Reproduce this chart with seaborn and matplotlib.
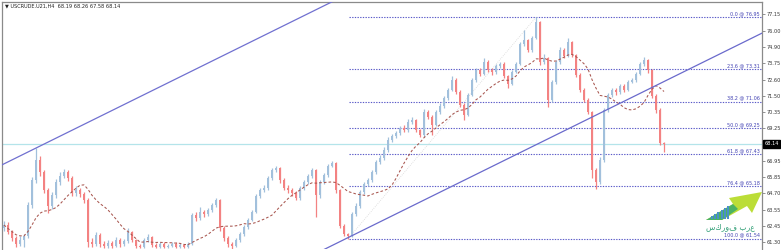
import numpy as np
import pandas as pd
import matplotlib
matplotlib.use("Agg")
import matplotlib.pyplot as plt
import matplotlib.transforms as mtrans
import seaborn as sns

# ---------------- data (USCRUDE H4 candles) ----------------
first_open = 62.30
closes = [62.50, 62.01, 61.59, 61.18, 61.45, 61.73, 63.89, 65.63, 67.02, 66.18,
          64.93, 63.82, 64.58, 65.49, 65.90, 66.18, 65.77, 64.72, 64.93, 64.65,
          64.24, 61.32, 61.18, 61.80, 61.18, 61.04, 61.25, 61.04, 61.45, 61.18,
          61.38, 62.01, 61.45, 61.04, 60.97, 61.45, 61.66, 61.11, 60.97, 61.18,
          60.97, 61.04, 61.18, 60.97, 61.11, 60.97, 61.18, 63.19, 62.98, 63.40,
          63.26, 63.54, 63.89, 64.24, 62.29, 61.59, 61.18, 61.04, 61.45, 61.87,
          62.36, 62.85, 63.40, 64.51, 64.93, 65.07, 65.77, 66.32, 66.46, 65.63,
          65.07, 64.93, 64.72, 64.37, 65.07, 65.49, 65.90, 66.32, 64.58, 65.49,
          65.97, 66.60, 66.81, 64.93, 62.43, 61.87, 61.73, 63.26, 63.82, 64.79,
          65.35, 65.63, 66.18, 66.88, 67.16, 67.71, 68.41, 68.69, 68.89, 69.24,
          69.10, 69.66, 69.80, 69.10, 68.76, 70.36, 70.01, 69.45, 70.36, 70.77,
          71.33, 71.89, 72.58, 71.75, 70.84, 70.15, 71.54, 72.58, 73.28, 73.00,
          73.83, 73.28, 73.14, 73.55, 73.69, 72.86, 72.30, 73.14, 73.69, 75.08,
          75.36, 74.67, 75.50, 76.61, 73.83, 74.11, 71.19, 72.44, 73.83, 74.67,
          74.25, 75.22, 74.32, 72.93, 71.89, 71.19, 70.36, 66.32, 65.49, 67.02,
          70.49, 71.54, 71.89, 71.75, 72.16, 71.89, 72.44, 72.58, 73.00, 73.69,
          73.97, 73.28, 71.47, 70.49, 68.19, 68.14]
highs = [62.75, 62.70, 62.15, 61.75, 61.70, 61.90, 64.10, 65.85, 67.85, 67.30,
         66.35, 65.10, 64.80, 65.70, 66.15, 66.40, 66.35, 65.90, 65.20, 65.10,
         64.80, 64.40, 61.60, 62.01, 61.95, 61.40, 61.45, 61.40, 61.65, 61.60,
         61.55, 62.30, 62.10, 61.55, 61.20, 61.60, 61.85, 61.75, 61.25, 61.35,
         61.30, 61.20, 61.35, 61.30, 61.25, 61.20, 61.35, 63.30, 63.40, 63.75,
         63.55, 63.70, 64.05, 64.38, 64.30, 62.45, 61.70, 61.30, 61.60, 62.00,
         62.50, 63.00, 63.55, 64.65, 65.10, 65.25, 65.90, 66.45, 66.60, 66.55,
         65.75, 65.25, 65.10, 64.85, 65.20, 65.65, 66.05, 66.46, 66.40, 65.60,
         66.10, 66.72, 66.95, 66.90, 65.00, 62.60, 61.95, 63.40, 64.00, 64.95,
         65.50, 65.80, 66.35, 67.05, 67.35, 67.90, 68.60, 68.85, 69.05, 69.40,
         69.45, 69.85, 70.00, 69.90, 69.20, 70.55, 70.50, 70.15, 70.50, 70.95,
         71.50, 72.05, 72.86, 72.70, 71.90, 70.95, 71.70, 72.75, 73.45, 73.40,
         74.11, 73.95, 73.40, 73.70, 73.85, 73.80, 72.95, 73.25, 73.85, 75.20,
         76.06, 75.45, 75.65, 76.95, 76.70, 74.40, 74.20, 72.60, 74.00, 74.85,
         74.80, 75.50, 75.30, 74.40, 73.05, 72.00, 71.30, 70.45, 66.45, 67.20,
         70.65, 71.70, 72.05, 72.00, 72.30, 72.30, 72.60, 72.75, 73.15, 73.85,
         74.18, 74.05, 73.35, 71.60, 70.60, 68.26]
lows = [62.10, 61.85, 61.40, 61.00, 61.05, 60.95, 61.60, 63.70, 65.45, 65.90,
        64.70, 63.33, 63.60, 64.40, 65.30, 65.75, 65.55, 64.50, 64.55, 64.45,
        64.00, 60.97, 60.95, 61.05, 60.98, 60.92, 60.90, 60.92, 60.95, 61.00,
        61.05, 61.25, 61.30, 60.92, 60.88, 60.90, 61.35, 60.98, 60.88, 60.90,
        60.88, 60.90, 60.95, 60.88, 60.90, 60.88, 60.90, 61.10, 62.80, 62.85,
        63.05, 63.15, 63.40, 63.75, 62.10, 61.40, 61.00, 60.85, 60.95, 61.35,
        61.75, 62.25, 62.75, 63.30, 64.35, 64.80, 64.95, 65.65, 66.20, 65.45,
        64.90, 64.75, 64.55, 64.22, 64.25, 64.95, 65.35, 65.80, 63.05, 64.40,
        65.35, 65.85, 66.50, 64.75, 62.30, 61.70, 61.54, 61.65, 63.10, 63.70,
        64.65, 65.20, 65.50, 66.05, 66.75, 67.05, 67.60, 68.30, 68.55, 68.75,
        68.95, 69.00, 69.55, 68.95, 68.60, 68.65, 69.85, 68.75, 69.35, 70.25,
        70.65, 71.20, 71.80, 71.60, 70.70, 69.80, 70.05, 71.45, 72.45, 72.85,
        72.90, 73.15, 72.95, 73.00, 73.40, 72.70, 72.02, 72.20, 73.05, 73.60,
        74.95, 74.50, 74.55, 75.40, 73.60, 73.70, 70.70, 71.05, 72.30, 73.70,
        74.10, 74.15, 74.15, 72.80, 71.75, 71.05, 70.20, 65.75, 65.00, 65.35,
        66.90, 70.35, 71.40, 71.55, 71.60, 71.75, 71.80, 72.35, 72.45, 72.90,
        73.55, 73.10, 71.30, 70.30, 68.05, 67.58]

fib_levels = [0.0, 23.6, 38.2, 50.0, 61.8, 76.4, 100.0]
fib_low, fib_high = 61.54, 76.95
fib_low_idx, fib_high_idx = 86, 133
channel_top_anchor = (8, 67.85)       # candle touching the upper channel line
channel_bot_anchor = (86, 61.62)      # candle touching the lower channel line
channel_slope = 0.1374                # price per candle
ma_period = 14
last_price = 68.14
right_ticks = [77.15, 76.00, 74.90, 73.75, 72.60, 71.50, 70.35, 69.25,
               66.95, 65.85, 64.70, 63.55, 62.45, 61.30]
header = "\u25BC USCRUDE.U21,H4  68.19 68.26 67.58 68.14"
logo_text = "\u0639\u0631\u0628 \u0641\u0648\u0631\u0643\u0633"

# ---------------- frame ----------------
n = len(closes)
assert len(highs) == n and len(lows) == n
opens = [first_open] + closes[:-1]
df = pd.DataFrame({"i": np.arange(n), "open": opens, "close": closes,
                   "high": highs, "low": lows})
df["high"] = df[["high", "open", "close"]].max(axis=1)
df["low"] = df[["low", "open", "close"]].min(axis=1)
df["ma"] = df["close"].rolling(ma_period, min_periods=1).mean()
up = df["close"] >= df["open"]

sns.set_theme(style="white")
plt.rcParams["font.family"] = ["DejaVu Sans"]

W, H = 781, 250
fig = plt.figure(figsize=(W / 100, H / 100), dpi=100)
ax = fig.add_axes([2 / W, 1 - 249 / H, 760 / W, 247 / H])
ax.set_facecolor("white")

XL = (-0.5, 189.5)
YL = (60.83, 78.005)
ax.set_xlim(*XL)
ax.set_ylim(*YL)

bull_c, bear_c = "#a2c0dc", "#f38282"
cols = np.where(up, bull_c, bear_c)

# current price line
ax.axhline(last_price, color="#b4e4ea", lw=0.9, zorder=1)

# candles
ax.vlines(df["i"], df["low"], df["high"], colors=cols, lw=0.9, zorder=3)
body_bottom = df[["open", "close"]].min(axis=1)
body_h = (df["close"] - df["open"]).abs().clip(lower=0.05)
ax.bar(df["i"], body_h, bottom=body_bottom, width=0.72, color=cols,
       edgecolor="none", zorder=3)

# moving average
sns.lineplot(data=df, x="i", y="ma", ax=ax, color="#a8564f", lw=0.75,
             zorder=4, legend=False)
ax.lines[-1].set_dashes((2.5, 2))

# fib retracement
rng = fib_high - fib_low
fib_prices = [fib_high - lv / 100 * rng for lv in fib_levels]
for lv, pr in zip(fib_levels, fib_prices):
    ax.hlines(pr, fib_low_idx + 0.3, XL[1], colors="#5a5ac8", lw=0.8,
              linestyles=(0, (1.2, 1.2)), zorder=2)
    ax.text(189.0, pr + 0.08, f"{lv:.1f} @ {pr:.2f}", fontsize=3.5,
            color="#4444b4", ha="right", va="bottom", zorder=6)
ax.plot([fib_low_idx, fib_high_idx], [fib_low, fib_high], color="#d8d8d8",
        lw=0.6, ls=(0, (1, 1.5)), zorder=2)

# channel lines
xs = np.array([XL[0], XL[1]])
ax.plot(xs, channel_top_anchor[1] + channel_slope * (xs - channel_top_anchor[0]),
        color="#7070d0", lw=0.9, zorder=5)
xs2 = np.array([70, XL[1]])
ax.plot(xs2, channel_bot_anchor[1] + channel_slope * (xs2 - channel_bot_anchor[0]),
        color="#6a6acc", lw=0.9, zorder=5)

# axes styling
ax.set_xticks([])
ax.yaxis.tick_right()
ax.set_yticks(right_ticks)
ax.set_yticklabels([f"{t:.2f}" for t in right_ticks])
ax.tick_params(axis="y", which="both", right=True, length=2, width=0.5,
               pad=1.5, labelsize=3.6, labelcolor="#333333", colors="#666666")
ax.set_xlabel("")
ax.set_ylabel("")
for s in ax.spines.values():
    s.set_color("#8a8a8a")
    s.set_linewidth(0.9)
ax.spines["bottom"].set_visible(False)

# last price label on the axis
trans = mtrans.blended_transform_factory(ax.transAxes, ax.transData)
ax.text(1.003, last_price, f"{last_price:.2f}", transform=trans, fontsize=3.6,
        color="white", ha="left", va="center", zorder=10,
        bbox=dict(boxstyle="square,pad=0.35", fc="black", ec="black"), clip_on=False)

# header
fig.text(5 / W, 1 - 6 / H, header, fontsize=3.6, color="#222222", va="center")

# watermark logo (approximate)
lx0, lx1, ly0, ly1 = 695, 764, 188, 234
lax = fig.add_axes([lx0 / W, 1 - ly1 / H, (lx1 - lx0) / W, (ly1 - ly0) / H])
lax.set_xlim(lx0, lx1)
lax.set_ylim(ly1, ly0)
lax.axis("off")
lax.patch.set_alpha(0)
lax.fill([706, 733, 729, 762, 752, 747, 722], [220, 204, 198, 192, 213, 206, 220],
         color="#b8dc2c", alpha=0.95, lw=0)
lax.fill([706, 733, 738, 722], [220, 204, 209, 220], color="#3fae6a", alpha=0.9, lw=0)
for k, hgt in enumerate([3, 5, 7, 9, 11, 13]):
    lax.bar(712 + 3.2 * k, hgt, bottom=219 - hgt, width=2, color="#4b8fc9", lw=0)
lax.text(730, 227, logo_text[::-1], fontsize=5.5,
         color="#34a078", ha="center", va="center", family=["DejaVu Sans"])

fig.savefig("out.png", dpi=100)
